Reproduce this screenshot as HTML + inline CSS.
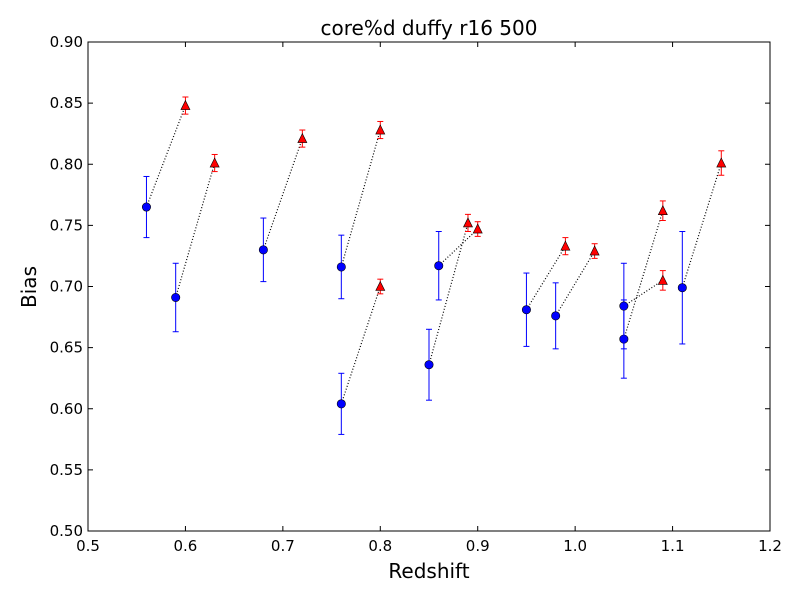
<!DOCTYPE html>
<html><head><meta charset="utf-8"><style>
body{margin:0;background:#fff;}
svg text{font-family:"DejaVu Sans","Liberation Sans",sans-serif;}
</style></head><body>
<svg id="chart" width="800" height="600"></svg>
<script>
const blueX=[0.56,0.59,0.68,0.76,0.76,0.85,0.86,0.95,0.98,1.05,1.05,1.11];
const blueY=[0.765,0.691,0.730,0.716,0.604,0.636,0.717,0.681,0.676,0.657,0.684,0.699];
const blueErr=[0.025,0.028,0.026,0.026,0.025,0.029,0.028,0.030,0.027,0.032,0.035,0.046];
const redX=[0.60,0.63,0.72,0.80,0.80,0.89,0.90,0.99,1.02,1.09,1.09,1.15];
const redY=[0.848,0.801,0.821,0.828,0.700,0.752,0.747,0.733,0.729,0.762,0.705,0.801];
const redErr=[0.007,0.007,0.007,0.007,0.006,0.007,0.006,0.007,0.006,0.008,0.008,0.010];
const xTicks=[0.5,0.6,0.7,0.8,0.9,1.0,1.1,1.2];
const xTickLabels=["0.5","0.6","0.7","0.8","0.9","1.0","1.1","1.2"];
const yTicks=[0.5,0.55,0.6,0.65,0.7,0.75,0.8,0.85,0.9];
const yTickLabels=["0.50","0.55","0.60","0.65","0.70","0.75","0.80","0.85","0.90"];

const L=88,R=770,T=42,B=531;
const sx=v=>L+(v-0.5)/0.7*(R-L);
const sy=v=>B-(v-0.5)/0.4*(B-T);
const svg=document.getElementById('chart');
const NS='http://www.w3.org/2000/svg';
function mk(tag,at,txt){const e=document.createElementNS(NS,tag);for(const k in at)e.setAttribute(k,at[k]);if(txt!==undefined)e.textContent=txt;svg.appendChild(e);return e;}

let e=mk('rect',{x:L,y:T,width:R-L,height:B-T,fill:'#fff',stroke:'#000','stroke-width':1});



xTicks.forEach((v,i)=>{const x=sx(v);
 mk('line',{x1:x,x2:x,y1:B,y2:B-5,stroke:'#000'});mk('line',{x1:x,x2:x,y1:T,y2:T+5,stroke:'#000'});
 const t=mk('text',{x:x,y:B+20,'text-anchor':'middle','font-size':15},xTickLabels[i]);
 
 });
yTicks.forEach((v,i)=>{const y=sy(v);
 mk('line',{x1:L,x2:L+5,y1:y,y2:y,stroke:'#000'});mk('line',{x1:R,x2:R-5,y1:y,y2:y,stroke:'#000'});
 const t=mk('text',{x:L-5,y:y+5,'text-anchor':'end','font-size':15},yTickLabels[i]);
 
 });

e=mk('text',{x:429,y:35,'text-anchor':'middle','font-size':20},'core%d duffy r16 500');


e=mk('text',{x:429,y:578,'text-anchor':'middle','font-size':20},'Redshift');


e=mk('text',{x:0,y:0,'text-anchor':'middle','font-size':20,transform:'translate(36,287) rotate(-90)'},'Bias');



for(let i=0;i<blueX.length;i++){
 e=mk('line',{x1:sx(blueX[i]),y1:sy(blueY[i]),x2:sx(redX[i]),y2:sy(redY[i]),stroke:'#000','stroke-dasharray':'1,2','stroke-width':1.2});
 
 
}
function errbar(x,y,er,col){const X=sx(x);
 mk('line',{x1:X,x2:X,y1:sy(y+er),y2:sy(y-er),stroke:col});
 mk('line',{x1:X-3,x2:X+3,y1:sy(y+er),y2:sy(y+er),stroke:col});
 mk('line',{x1:X-3,x2:X+3,y1:sy(y-er),y2:sy(y-er),stroke:col});}
for(let i=0;i<blueX.length;i++){
 errbar(blueX[i],blueY[i],blueErr[i],'#00f');
 e=mk('circle',{cx:sx(blueX[i]),cy:sy(blueY[i]),r:4.2,fill:'#00f',stroke:'#000','stroke-width':0.6});
 
 
}
for(let i=0;i<redX.length;i++){
 errbar(redX[i],redY[i],redErr[i],'#f00');
 const X=sx(redX[i]),Y=sy(redY[i]);
 e=mk('polygon',{points:`${X},${Y-5} ${X-4.5},${Y+4} ${X+4.5},${Y+4}`,fill:'#f00',stroke:'#000','stroke-width':0.6});
 
 
}
</script>
</body></html>
